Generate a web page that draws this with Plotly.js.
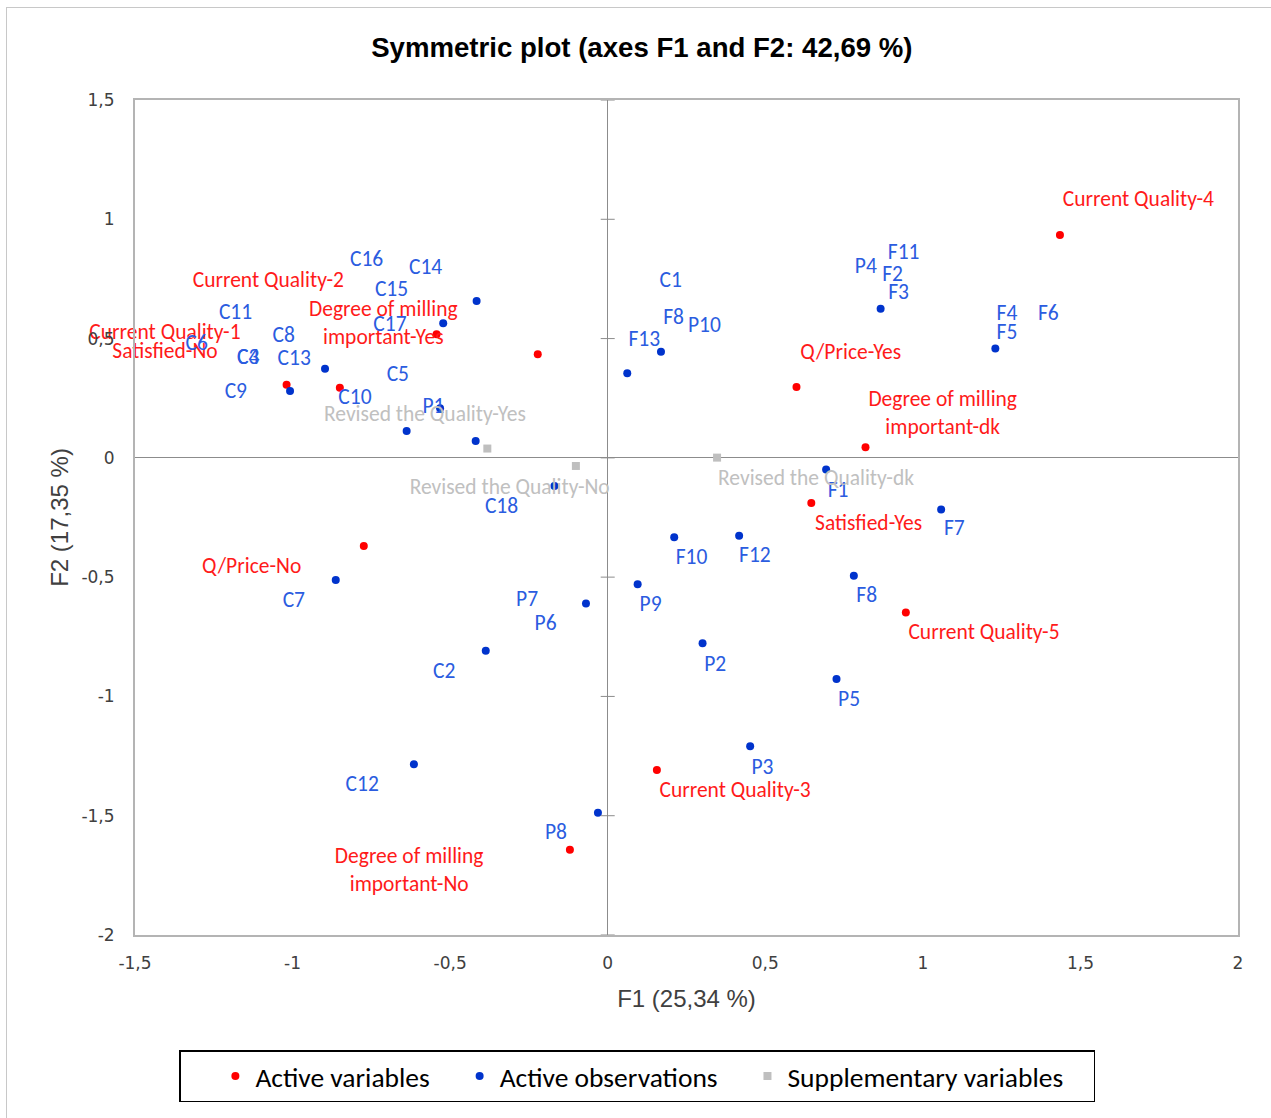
<!DOCTYPE html>
<html><head><meta charset="utf-8">
<script src="https://cdn.plot.ly/plotly-3.0.1.min.js"></script>
<style>
html,body{margin:0;padding:0;background:#fff;overflow:hidden}
#frame{position:absolute;left:6px;top:7px;width:1400px;height:1300px;border:1px solid #c8c8c8;}
#chart{position:absolute;left:0;top:0;width:1271px;height:1118px;}
</style></head><body>
<div id="frame"></div><div id="chart"></div>
<script>
// Active variables (red)
const varNames = ["Current Quality-4","Current Quality-1","Satisfied-No","Degree of milling important-Yes","Current Quality-2","Q/Price-Yes","Degree of milling important-dk","Satisfied-Yes","Current Quality-5","Q/Price-No","Current Quality-3","Degree of milling important-No"];
const varF1 = [1.435,-1.019,-0.850,-0.543,-0.222,0.599,0.818,0.646,0.946,-0.774,0.156,-0.120];
const varF2 = [0.934,0.306,0.294,0.518,0.434,0.297,0.044,-0.189,-0.648,-0.369,-1.308,-1.643];
const varLabels = ["Current Quality-4","Current Quality-1","Satisfied-No","Degree of milling<br>important-Yes","Current Quality-2","Q/Price-Yes","Degree of milling<br>important-dk","Satisfied-Yes","Current Quality-5","Q/Price-No","Current Quality-3","Degree of milling<br>important-No"];
const varLabelF1 = [1.684,-1.405,-1.405,-0.712,-1.077,0.771,1.063,0.828,1.194,-1.130,0.404,-0.630];
const varLabelF2 = [1.078,0.519,0.441,0.558,0.738,0.435,0.182,-0.281,-0.738,-0.460,-1.399,-1.733];

// Active observations (blue)
const obsF1 = [-0.416,-0.522,-0.897,-1.008,-0.532,-0.638,-0.419,-0.169,0.169,0.062,0.866,1.230,0.693,1.058,0.211,0.417,0.781,0.095,-0.069,0.301,-0.387,0.726,-0.863,-0.615,0.452,-0.031];
const obsF2 = [0.658,0.564,0.373,0.280,0.208,0.113,0.071,-0.118,0.445,0.355,0.625,0.458,-0.049,-0.216,-0.333,-0.327,-0.494,-0.530,-0.611,-0.777,-0.809,-0.927,-0.512,-1.284,-1.209,-1.488];
const obsLabels = ["C16","C14","C15","C11","C17","C8","C6","C3","C4","C13","C5","C9","C10","P1","C1","F8","P10","F13","P4","F11","F2","F3","F4","F6","F5","C18","F1","F7","F10","F12","F8","P7","P9","P6","P2","C2","P5","C7","C12","P8","P3"];
const obsLabelF1 = [-0.765,-0.578,-0.686,-1.181,-0.691,-1.028,-1.304,-1.141,-1.141,-0.995,-0.666,-1.180,-0.802,-0.553,0.200,0.209,0.307,0.116,0.819,0.939,0.904,0.923,1.267,1.398,1.267,-0.337,0.731,1.100,0.266,0.467,0.822,-0.256,0.136,-0.197,0.341,-0.519,0.766,-0.996,-0.779,-0.164,0.491];
const obsLabelF2 = [0.825,0.792,0.701,0.603,0.553,0.508,0.476,0.417,0.417,0.410,0.343,0.273,0.250,0.210,0.738,0.585,0.550,0.490,0.799,0.858,0.762,0.687,0.599,0.599,0.519,-0.207,-0.142,-0.302,-0.421,-0.414,-0.583,-0.598,-0.620,-0.700,-0.869,-0.900,-1.016,-0.603,-1.375,-1.576,-1.301];

// Supplementary variables (grey)
const supNames = ["Revised the Quality-Yes","Revised the Quality-No","Revised the Quality-dk"];
const supF1 = [-0.382,-0.101,0.347];
const supF2 = [0.039,-0.034,0.001];
const supLabelF1 = [-0.580,-0.311,0.661];
const supLabelF2 = [0.176,-0.127,-0.090];

// Axes
const xTicks = [-1.5,-1,-0.5,0,0.5,1,1.5,2];
const xTickText = ["-1,5","-1","-0,5","0","0,5","1","1,5","2"];
const yTicks = [-2,-1.5,-1,-0.5,0,0.5,1,1.5];
const yTickText = ["-2","-1,5","-1","-0,5","0","0,5","1","1,5"];

const RED = "#ff0000", BLUE = "#0033cc", GREY = "#bfbfbf";
const LBL_FONT = "Carlito, Lato, 'Open Sans', sans-serif";
const PAD = "\u00a0\u00a0\u00a0\u00a0";

const traces = [
  {type:"scatter", mode:"markers", name:"Active variables" + PAD, x:varF1, y:varF2, text:varNames,
   marker:{color:RED, size:8, symbol:"circle"}, hoverinfo:"text"},
  {type:"scatter", mode:"markers", name:"Active observations" + PAD, x:obsF1, y:obsF2,
   marker:{color:BLUE, size:8, symbol:"circle"}},
  {type:"scatter", mode:"markers", name:"Supplementary variables" + PAD, x:supF1, y:supF2, text:supNames,
   marker:{color:GREY, size:8, symbol:"square"}, hoverinfo:"text"},
  {type:"scatter", mode:"text", showlegend:false, x:varLabelF1, y:varLabelF2, text:varLabels,
   textposition:"middle center", cliponaxis:false, textfont:{family:LBL_FONT, size:21.5, color:"#ff1a1a"}},
  {type:"scatter", mode:"text", showlegend:false, x:obsLabelF1, y:obsLabelF2, text:obsLabels,
   textposition:"middle center", cliponaxis:false, textfont:{family:LBL_FONT, size:21.5, color:"#2b5ce0"}},
  {type:"scatter", mode:"text", showlegend:false, x:supLabelF1, y:supLabelF2, text:supNames,
   textposition:"middle center", cliponaxis:false, textfont:{family:LBL_FONT, size:21.5, color:"#c0c0c0"}}
];

const shapes = yTicks.map(v => ({type:"line", xref:"x", yref:"y", xsizemode:"pixel", xanchor:0,
  x0:-7, x1:7, y0:v, y1:v, line:{color:"#8c8c8c", width:1}}));

const layout = {
  width:1271, height:1118,
  paper_bgcolor:"rgba(0,0,0,0)", plot_bgcolor:"#ffffff",
  margin:{l:135, r:33, t:100, b:183},
  separators:", ",
  title:{text:"<b>Symmetric plot (axes F1 and F2: 42,69 %)</b>", xref:"container", x:0.505, xanchor:"center",
         yref:"container", y:1-47/1118, yanchor:"middle",
         font:{family:"'Liberation Sans', Arial, sans-serif", size:27.6, color:"#000"}},
  xaxis:{range:[-1.5,2], tickvals:xTicks, ticktext:xTickText, showgrid:false,
         zeroline:true, zerolinecolor:"#8c8c8c", zerolinewidth:1,
         showline:true, mirror:true, linecolor:"#b4b4b4", linewidth:2, ticks:"", ticklabelstandoff:12,
         tickfont:{family:"'DejaVu Sans', Verdana, sans-serif", size:17, color:"#404040"},
         title:{text:"F1 (25,34 %)", standoff:18, font:{family:"'Liberation Sans', Arial, sans-serif", size:24, color:"#404040"}}},
  yaxis:{range:[-2,1.5], tickvals:yTicks, ticktext:yTickText, showgrid:false,
         zeroline:true, zerolinecolor:"#8c8c8c", zerolinewidth:1,
         showline:true, mirror:true, linecolor:"#b4b4b4", linewidth:2, ticks:"", ticklabelstandoff:15,
         tickfont:{family:"'DejaVu Sans', Verdana, sans-serif", size:17, color:"#404040"},
         title:{text:"F2 (17,35 %)", standoff:6, font:{family:"'Liberation Sans', Arial, sans-serif", size:24, color:"#404040"}}},
  shapes:shapes,
  showlegend:true,
  legend:{orientation:"h", xref:"container", yref:"container", x:637/1271, xanchor:"center",
          y:1-1050/1118, yanchor:"top", bordercolor:"#000", borderwidth:1.5, bgcolor:"#fff",
          title:{text:"\u00a0\u00a0\u00a0\u00a0", side:"left", font:{family:LBL_FONT, size:27.5}},
          font:{family:LBL_FONT, size:27.5, color:"#000"}, itemwidth:30, tracegroupgap:0},
  hovermode:"closest"
};

Plotly.newPlot("chart", traces, layout, {displayModeBar:false, staticPlot:true});
</script>
</body></html>
